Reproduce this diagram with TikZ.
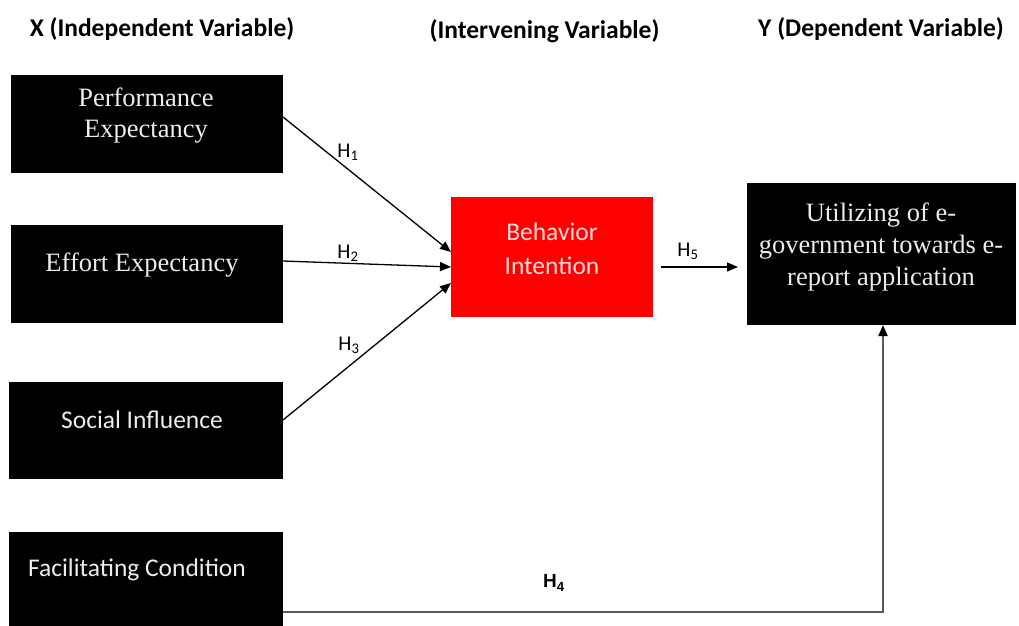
\documentclass[tikz,border=0pt]{standalone}
\usepackage{fontspec}
\setmainfont{Carlito}
\newfontfamily\serifbox{Liberation Serif}
\newfontfamily\arialf{Liberation Sans}
\usetikzlibrary{arrows.meta,calc}
\definecolor{boxtext}{RGB}{236,236,236}
\definecolor{bitext}{RGB}{255,215,215}
\definecolor{fcline}{RGB}{90,90,90}
\definecolor{bired}{RGB}{255,0,0}
\begin{document}
\begin{tikzpicture}[x=1pt,y=-1pt,
  blackbox/.style={fill=black,draw=none,inner sep=0pt,outer sep=0pt},
  redbox/.style={fill=bired,draw=none,inner sep=0pt,outer sep=0pt},
  sertext/.style={text=boxtext,inner sep=0pt,align=center,font=\serifbox\fontsize{26.5}{31}\selectfont},
  santext/.style={text=boxtext,inner sep=0pt,align=center,font=\fontsize{25.5}{31}\selectfont},
  header/.style={inner sep=0pt,font=\bfseries\fontsize{25.5}{30}\selectfont},
  conn/.style={draw=black,line width=1.3pt,-{Triangle[length=11pt,width=9pt]}},
  fcconn/.style={draw=fcline,line width=2pt,-{Triangle[length=11pt,width=9pt,color=black]}},
  hlab/.style={inner sep=0pt,font=\fontsize{21}{24}\selectfont},
]
\useasboundingbox (0,0) rectangle (1019,625);
\fill[white] (0,0) rectangle (1019,625);

% headers
\node[header] (hx) at (162,29) {X (Independent Variable)};
\node[header] (hi) at (544.5,31) {(Intervening Variable)};
\node[header] (hy) at (881,29) {Y (Dependent Variable)};

% boxes
\node[blackbox,minimum width=272pt,minimum height=98pt] (pe) at (147,124) {};
\node[sertext] (pet) at (146,116) {Performance\\Expectancy};

\node[blackbox,minimum width=272pt,minimum height=98pt] (ee) at (147,274) {};
\node[sertext] (eet) at (142,265) {Effort Expectancy};

\node[blackbox,minimum width=274pt,minimum height=97pt] (si) at (146,430.5) {};
\node[santext] (sit) at (142,420) {Social Influence};

\node[blackbox,minimum width=274pt,minimum height=108pt] (fc) at (146,586) {};
\node[santext] (fct) at (137,570) {Facilitating Condition};

\node[redbox,minimum width=202pt,minimum height=120pt] (bi) at (552,257) {};
\node[santext,text=bitext,font=\fontsize{25.5}{34}\selectfont] (bit) at (552,249) {Behavior\\Intention};

\node[blackbox,minimum width=269pt,minimum height=142pt] (ut) at (881.5,254) {};
\node[sertext,font=\serifbox\fontsize{26.5}{32}\selectfont] (utt) at (881,247) {Utilizing of e-\\government towards e-\\report application};

% connectors
\draw[conn] ([yshift=7pt]pe.east) -- ([yshift=5pt]bi.west);
\draw[conn] ([yshift=13pt]ee.east) -- ([yshift=-10pt]bi.west);
\draw[conn] ([yshift=10.5pt]si.east) -- ([yshift=-26pt]bi.west);
\draw[conn] ([xshift=8pt,yshift=-10pt]bi.east) -- ([xshift=-9pt,yshift=-13pt]ut.west);
\draw[fcconn] ([yshift=-26pt]fc.east) -| ([xshift=1.5pt]ut.south);

% labels
\node[hlab] (h1) at (348,152) {H\textsubscript{1}};
\node[hlab] (h2) at (348,253) {H\textsubscript{2}};
\node[hlab] (h3) at (349,345) {H\textsubscript{3}};
\node[hlab] (h5) at (688,251) {H\textsubscript{5}};
\node[hlab,font=\arialf\bfseries\fontsize{19}{21}\selectfont] (h4) at (554,583) {H\textsubscript{4}};
\end{tikzpicture}
\end{document}
